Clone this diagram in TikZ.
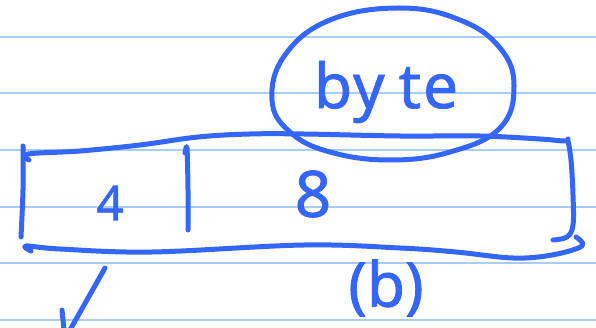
\documentclass[tikz,border=0pt]{standalone}
\usepackage{fontspec}
\setmainfont{Noto Sans}[FakeBold=1.2]
\definecolor{ink}{RGB}{52,102,250}
\definecolor{rule}{RGB}{168,206,247}
\begin{document}
\begin{tikzpicture}[x=1pt,y=-1pt,
  pen/.style={draw=ink,line width=5pt,line cap=round,line join=round},
  paper/.style={draw=rule,line width=2pt},
  hand/.style={text=ink,inner sep=0pt}]
\useasboundingbox (0,0) rectangle (596,328);
\fill[white] (0,0) rectangle (596,328);
% ruled paper
\foreach \y in {36.7,93.3,150,206.7,263.3,320}
  \draw[paper] (0,\y) -- (596,\y);
% ellipse round the word
\draw[pen] plot[smooth cycle,tension=0.7] coordinates
  {(272,100) (285,55) (330,20) (400,8) (460,20) (500,48) (514,86)
   (500,128) (450,152) (390,160) (330,152) (290,132)};
\node[hand,font=\fontsize{62}{64}\selectfont] (byte) at (386,92) {b\kern1pt y\kern14pt t\kern2pt e};
% top edge
\draw[pen] plot[smooth,tension=0.6] coordinates
  {(29,160) (28,154) (80,151) (140,145) (198,137) (250,134) (304,134)
   (400,136) (480,136) (540,139) (564,141) (568,139)};
% left edge
\draw[pen] plot[smooth] coordinates {(23,146) (23,190) (21,237)};
% right edge with hook
\draw[pen] plot[smooth,tension=0.6] coordinates
  {(568,141) (571,160) (573,195) (573,225) (567,237) (553,240)};
% bottom edge
\draw[pen] plot[smooth,tension=0.6] coordinates
  {(31,251) (26,246) (60,249) (152,252) (304,245) (400,248) (456,252)
   (513,258) (552,255) (582,246) (576,237)};
% divider
\draw[pen] plot[smooth] coordinates {(185,153) (187,148) (188,190) (188,230)};
\node[hand,font=\fontsize{48}{50}\selectfont] (four) at (110,203) {4};
\node[hand,font=\fontsize{64}{66}\selectfont] (eight) at (313,194) {8};
\node[hand,font=\fontsize{62}{64}\selectfont] (label) at (386,288) {(b)};
% check mark
\draw[pen] (105,268) -- (70,330);
\draw[pen] (62,310) -- (64,330);
\end{tikzpicture}
\end{document}
